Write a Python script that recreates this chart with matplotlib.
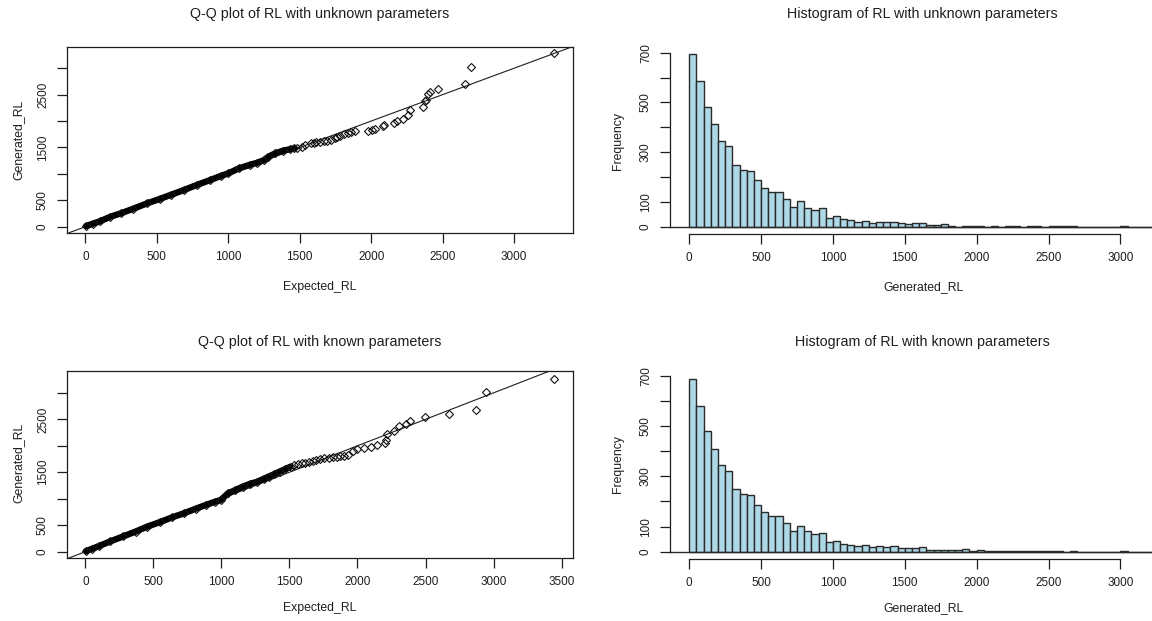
import numpy as np
import matplotlib
matplotlib.use("Agg")
import matplotlib.pyplot as plt

# ---- data ----
# Q-Q plot, unknown parameters: dense part of the sample and the sparse tail
qq1_dense_x = [5, 50, 100, 175, 250, 330, 432, 520, 600, 689, 780, 870, 947, 1000,
               1075, 1150, 1204, 1250, 1281, 1330, 1384, 1430, 1461]
qq1_dense_y = [12, 55, 100, 189, 255, 335, 442, 525, 605, 694, 790, 880, 960, 1010,
               1105, 1170, 1212, 1260, 1326, 1390, 1439, 1465, 1484]
qq1_tail_x = [1480, 1513, 1540, 1577, 1600, 1616, 1640, 1667, 1690, 1719, 1744, 1760,
              1783, 1809, 1834, 1860, 1886, 1976, 2002, 2027, 2079, 2092, 2161, 2182,
              2225, 2254, 2272, 2362, 2375, 2382, 2400, 2413, 2465, 2658, 2696, 3278]
qq1_tail_y = [1495, 1515, 1540, 1578, 1590, 1603, 1610, 1622, 1630, 1641, 1673, 1690,
              1717, 1755, 1768, 1799, 1812, 1812, 1831, 1856, 1907, 1919, 1957, 2008,
              2033, 2109, 2210, 2260, 2370, 2400, 2513, 2551, 2601, 2696, 3030, 3283]

# Q-Q plot, known parameters
qq2_dense_x = [5, 50, 100, 184, 280, 370, 454, 550, 640, 724, 810, 886, 950, 995,
               1049, 1100, 1157, 1210, 1265, 1310, 1346, 1390, 1427, 1470, 1508]
qq2_dense_y = [10, 55, 105, 195, 290, 380, 472, 560, 650, 724, 810, 882, 940, 976,
               1102, 1160, 1228, 1280, 1322, 1375, 1417, 1465, 1511, 1560, 1606]
qq2_tail_x = [1535, 1560, 1589, 1615, 1643, 1670, 1697, 1725, 1751, 1790, 1819, 1850,
              1873, 1900, 1927, 1968, 1995, 2049, 2103, 2143, 2200, 2211, 2216, 2270,
              2305, 2359, 2386, 2495, 2676, 2870, 2941, 3441]
qq2_tail_y = [1637, 1650, 1669, 1680, 1700, 1715, 1732, 1745, 1763, 1775, 1782, 1795,
              1807, 1815, 1826, 1908, 1940, 1952, 1971, 2015, 2047, 2110, 2223, 2286,
              2381, 2406, 2475, 2538, 2594, 2676, 3022, 3262]

# histogram counts, bins of width 50 starting at 0
bin_width = 50
hist1_counts = [695, 585, 483, 412, 343, 323, 247, 229, 223, 186, 157, 138, 138, 110,
                80, 103, 76, 66, 74, 34, 42, 31, 27, 19, 23, 13, 20, 17, 20, 13, 11,
                13, 13, 5, 5, 9, 4, 0, 4, 2, 2, 0, 1, 0, 1, 1, 0, 1, 1, 0, 1, 1, 1,
                1, 0, 0, 0, 0, 0, 0, 1, 0, 0, 0, 0, 1]
hist2_counts = [688, 579, 482, 408, 344, 320, 248, 231, 224, 185, 159, 141, 141, 113,
                81, 102, 81, 69, 73, 39, 43, 32, 27, 24, 28, 17, 24, 17, 21, 13, 13,
                13, 17, 5, 8, 8, 5, 5, 9, 1, 5, 2, 1, 1, 2, 1, 1, 4, 1, 1, 1, 1, 0,
                1, 0, 0, 0, 0, 0, 0, 1, 0, 0, 0, 0, 1]

titles = ["Q-Q plot of RL with unknown parameters", "Histogram of RL with unknown parameters",
          "Q-Q plot of RL with known parameters", "Histogram of RL with known parameters"]

W, H = 1152, 621
INK = "#1e1e1e"
TXT = ["Liberation Sans", "DejaVu Sans"]
TICKF = ["Liberation Sans Narrow", "Liberation Sans", "DejaVu Sans"]

fig = plt.figure(figsize=(W / 100, H / 100), dpi=100)


def box(l, t, r, b):
    return fig.add_axes([l / W, 1 - b / H, (r - l) / W, (b - t) / H])


def ftext(x, y, s, size, rot=0):
    fig.text(x / W, 1 - y / H, s, ha="center", va="center", rotation=rot,
             fontsize=size, family=TXT, color=INK)


def style_ticks(ax):
    ax.tick_params(length=7, width=0.9, color=INK, labelcolor=INK, pad=6,
                   labelsize=8.5)
    for lab in ax.get_xticklabels() + ax.get_yticklabels():
        lab.set_family(TICKF)


def qq(ax, dx, dy, tx, ty, xlim, ylim, xt):
    ax.axline((0, 0), slope=1, color=INK, lw=0.8)
    ax.plot(dx, dy, color="black", lw=4.6, solid_capstyle="round")
    ax.plot(dx + tx, dy + ty, "D", ms=3.6, mfc="none", mec="#111", mew=0.8)
    ax.set_xlim(*xlim)
    ax.set_ylim(*ylim)
    ax.set_xticks(xt)
    yt = [0, 500, 1000, 1500, 2000, 2500, 3000]
    ax.set_yticks(yt)
    ax.set_yticklabels(["0", "500", "", "1500", "", "2500", ""], rotation=90, va="center")
    for sp in ax.spines.values():
        sp.set_color(INK)
        sp.set_linewidth(0.9)
    style_ticks(ax)


def hist(ax, counts, xlim):
    edges = np.arange(len(counts)) * bin_width
    ax.bar(edges, counts, width=bin_width, align="edge", color="lightblue",
           edgecolor="#2a2a2a", lw=1.0)
    ax.axhline(0, color="#2a2a2a", lw=1.0)
    top = max(counts)
    ax.set_ylim(-0.04 * top, 1.04 * top)
    ax.set_xlim(*xlim)
    ax.set_xticks([0, 500, 1000, 1500, 2000, 2500, 3000])
    ax.set_yticks([0, 100, 200, 300, 400, 500, 600, 700])
    ax.set_yticklabels(["0", "100", "", "300", "", "500", "", "700"], rotation=90, va="center")
    for k in ["top", "right"]:
        ax.spines[k].set_visible(False)
    ax.spines["left"].set_bounds(0, 700)
    ax.spines["bottom"].set_bounds(0, 3000)
    for k in ["left", "bottom"]:
        ax.spines[k].set_color(INK)
        ax.spines[k].set_linewidth(0.9)
    style_ticks(ax)


# top left
a1 = box(67, 47.3, 573, 232.7)
qq(a1, qq1_dense_x, qq1_dense_y, qq1_tail_x, qq1_tail_y, (-129, 3412), (-114, 3396),
   [0, 500, 1000, 1500, 2000, 2500, 3000])
# bottom left
a3 = box(67, 371, 573, 558.3)
qq(a3, qq2_dense_x, qq2_dense_y, qq2_tail_x, qq2_tail_y, (-135, 3584), (-126, 3413),
   [0, 500, 1000, 1500, 2000, 2500, 3000, 3500])
# histograms
a2 = box(670, 47, W, 233.6)
hist(a2, hist1_counts, (-133.6, 3220))
a4 = box(670, 372, W, 558.6)
hist(a4, hist2_counts, (-133.6, 3220))

ftext(320, 14, titles[0], 10.3)
ftext(922, 14, titles[1], 10.3)
ftext(320, 342, titles[2], 10.3)
ftext(922, 342, titles[3], 10.3)

ftext(320, 287, "Expected_RL", 8.8)
ftext(320, 608, "Expected_RL", 8.8)
ftext(924, 287, "Generated_RL", 8.8)
ftext(924, 608, "Generated_RL", 8.8)
ftext(18, 140, "Generated_RL", 8.8, 90)
ftext(18, 463, "Generated_RL", 8.8, 90)
ftext(618, 141, "Frequency", 8.8, 90)
ftext(618, 464, "Frequency", 8.8, 90)

fig.savefig("out.png", dpi=100)
